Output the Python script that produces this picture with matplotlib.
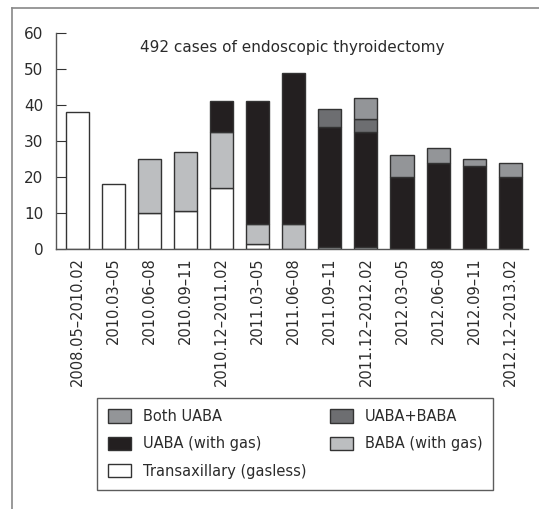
import matplotlib.pyplot as plt
from matplotlib.lines import Line2D
from matplotlib.patches import Patch
import numpy as np

# periods (x axis)
periods = ['2008.05–2010.02', '2010.03–05', '2010.06–08', '2010.09–11',
           '2010.12–2011.02', '2011.03–05', '2011.06–08', '2011.09–11',
           '2011.12–2012.02', '2012.03–05', '2012.06–08', '2012.09–11',
           '2012.12–2013.02']

# case counts per approach, stacked bottom to top
transaxillary = [38, 18, 10, 10.5, 17, 1.5, 0, 0, 0, 0, 0, 0, 0]
baba_gas = [0, 0, 15, 16.5, 15.5, 5.5, 7, 0.5, 0.5, 0, 0, 0, 0]
uaba_gas = [0, 0, 0, 0, 8.5, 34, 42, 33.5, 32, 20, 24, 23, 20]
uaba_baba = [0, 0, 0, 0, 0, 0, 0, 5, 3.5, 0, 0, 0, 0]
both_uaba = [0, 0, 0, 0, 0, 0, 0, 0, 6, 6, 4, 2, 4]

series = [
    ('Transaxillary (gasless)', transaxillary, '#ffffff'),
    ('BABA (with gas)', baba_gas, '#bcbec0'),
    ('UABA (with gas)', uaba_gas, '#231f20'),
    ('UABA+BABA', uaba_baba, '#6d6e71'),
    ('Both UABA', both_uaba, '#939598'),
]

plt.rcParams['font.family'] = ['DejaVu Sans']
txt = '#2b2b2b'
edge = '#333333'

fig = plt.figure(figsize=(5.39, 5.09), dpi=100)
ax = fig.add_axes([0.104, 0.511, 0.876, 0.424])

x = np.arange(len(periods))
bottom = np.zeros(len(periods))
for name, vals, col in series:
    vals = np.array(vals, dtype=float)
    m = vals > 0
    ax.bar(x[m], vals[m], bottom=bottom[m], width=0.64, color=col,
           edgecolor=edge, linewidth=1.0)
    bottom += vals

ax.set_xlim(-0.59, 12.5)
ax.set_ylim(0, 60)
ax.set_yticks(range(0, 61, 10))
ax.set_xticks(x)
ax.set_xticklabels(periods, rotation=90, fontsize=10.5, color=txt)
ax.tick_params(axis='x', length=0, pad=6)
ax.tick_params(axis='y', direction='in', length=7, pad=9, labelsize=11,
               labelcolor=txt, color=edge)
for s in ['top', 'right']:
    ax.spines[s].set_visible(False)
for s in ['left', 'bottom']:
    ax.spines[s].set_color('#555555')
    ax.spines[s].set_linewidth(1.0)

ax.text(0.5, 0.935, '492 cases of endoscopic thyroidectomy',
        transform=ax.transAxes, ha='center', va='center', fontsize=11,
        color=txt)

# legend, filled column-wise to get the row layout of the original
lookup = {n: c for n, v, c in series}
order = ['Both UABA', 'UABA (with gas)', 'Transaxillary (gasless)',
         'UABA+BABA', 'BABA (with gas)']
handles = [Patch(facecolor=lookup[n], edgecolor=edge, linewidth=1.0)
           for n in order]
leg = fig.legend(handles, order, ncol=2, loc='upper left',
                 bbox_to_anchor=(97 / 539, 1 - 398 / 509), fontsize=10.5,
                 frameon=True, fancybox=False, handlelength=1.58,
                 handleheight=1.03, columnspacing=1.6, labelspacing=0.85,
                 borderpad=0.75, borderaxespad=0, handletextpad=0.82,
                 labelcolor=txt)
leg.get_frame().set_edgecolor('#333333')
leg.get_frame().set_linewidth(1.0)

# partial outer frame (left and top edges visible in the original)
fig.add_artist(Line2D([12 / 539, 12 / 539], [0, 1 - 8 / 509],
                      color='#888888', linewidth=1.2))
fig.add_artist(Line2D([12 / 539, 1], [1 - 8 / 509, 1 - 8 / 509],
                      color='#888888', linewidth=1.2))

fig.savefig('out.png', dpi=100)
plt.close(fig)
